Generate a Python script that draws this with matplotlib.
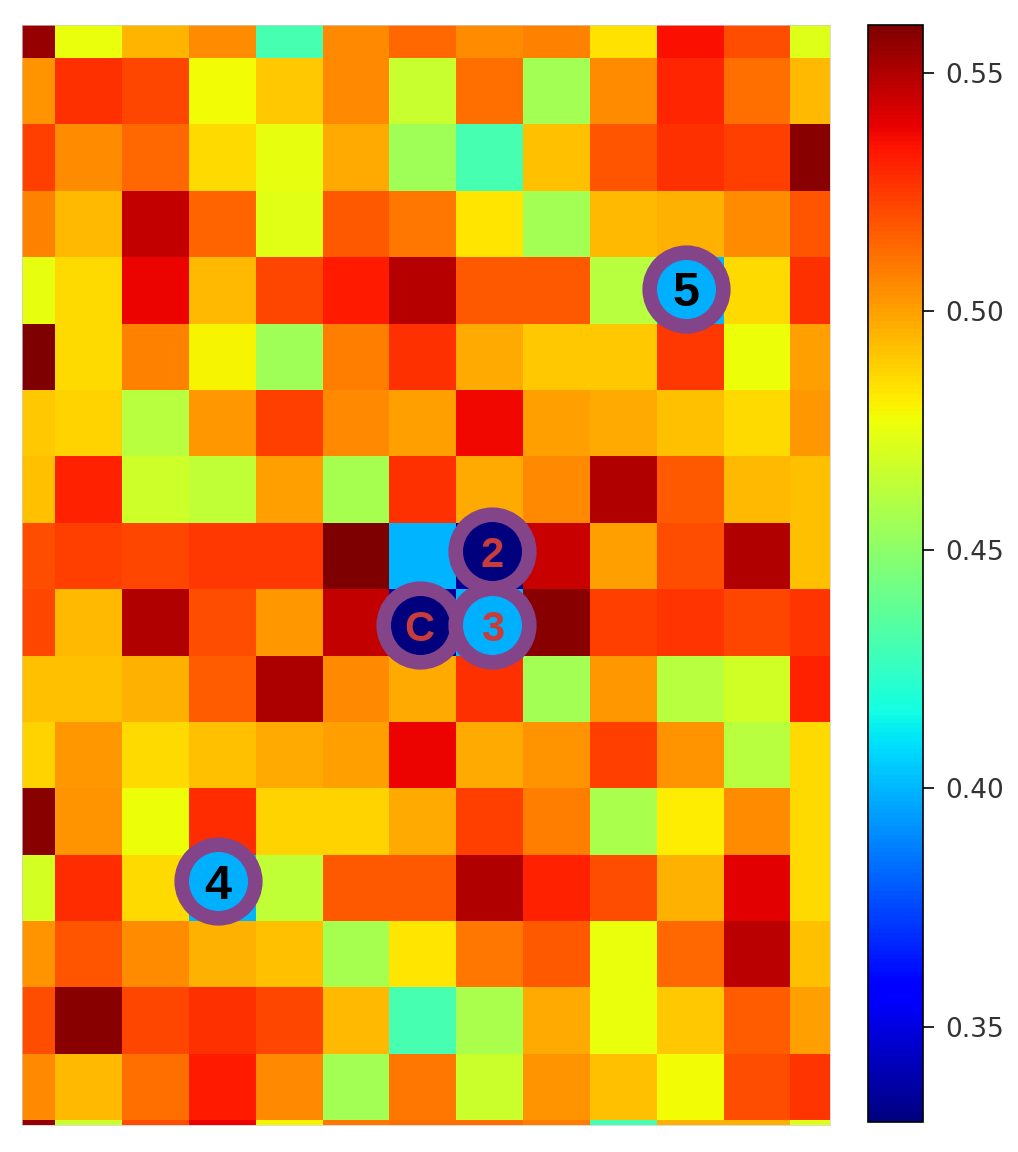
import numpy as np
from matplotlib import pyplot as plt

values = [
    [.555, .476, .495, .505, .430, .506, .514, .505, .507, .484, .535, .520, .472],
    [.503, .527, .522, .478, .490, .506, .466, .512, .456, .505, .530, .512, .494],
    [.524, .505, .514, .486, .475, .498, .455, .430, .492, .518, .527, .524, .558],
    [.507, .494, .546, .515, .473, .517, .510, .483, .456, .494, .496, .505, .518],
    [.475, .486, .538, .494, .522, .533, .549, .517, .517, .462, .400, .486, .527],
    [.560, .486, .507, .480, .455, .508, .527, .498, .490, .490, .525, .477, .500],
    [.490, .488, .462, .502, .524, .506, .500, .537, .500, .498, .492, .486, .502],
    [.492, .531, .468, .464, .500, .457, .527, .498, .506, .550, .517, .494, .492],
    [.520, .524, .522, .525, .525, .560, .400, .335, .545, .500, .520, .550, .492],
    [.522, .494, .550, .520, .502, .546, .335, .400, .558, .524, .526, .522, .526],
    [.492, .492, .496, .516, .551, .506, .498, .527, .456, .502, .462, .469, .531],
    [.488, .502, .486, .492, .498, .500, .538, .498, .503, .524, .503, .462, .486],
    [.558, .503, .477, .528, .488, .488, .498, .524, .508, .458, .481, .505, .486],
    [.470, .528, .486, .400, .464, .517, .517, .550, .531, .520, .496, .540, .486],
    [.503, .518, .505, .496, .492, .457, .483, .510, .517, .476, .514, .548, .492],
    [.520, .558, .522, .527, .522, .494, .430, .458, .498, .476, .490, .516, .500],
    [.506, .494, .512, .533, .506, .456, .510, .467, .503, .492, .478, .520, .526],
    [.555, .467, .520, .538, .480, .510, .512, .512, .508, .430, .496, .496, .472],
]

# circled labels: text, col, row, fill, text colour, size
labels = ["2", "C", "3", "4", "5"]
label_x = [7.04, 5.95, 7.04, 2.93, 9.94]
label_y = [7.93, 9.04, 9.04, 12.90, 3.97]
label_fill = ["#00007f", "#00007f", "#00b0ff", "#00b0ff", "#00b0ff"]
label_color = ["#c83c3c", "#c83c3c", "#c83c3c", "black", "black"]
label_size = [30, 30, 30, 35, 35]

cbar_ticks = [0.35, 0.40, 0.45, 0.50, 0.55]

W, H = 1018, 1152
fig = plt.figure(figsize=(W / 100, H / 100), dpi=100)
ax = fig.add_axes([22 / W, 1 - 1125 / H, 808 / W, 1100 / H])
im = ax.imshow(np.array(values), cmap="jet", vmin=0.33, vmax=0.56,
               interpolation="nearest", aspect="auto")
ax.set_xlim(0, 12.09)
ax.set_ylim(16.57, 0)
ax.set_xticks([])
ax.set_yticks([])
for s in ax.spines.values():
    s.set_color("#cccccc")
    s.set_linewidth(0.5)

for t, x, y, fc, tc, fs in zip(labels, label_x, label_y, label_fill, label_color, label_size):
    ax.scatter([x], [y], s=53 ** 2, facecolor=fc, edgecolor="#83448a",
               linewidth=10.5, zorder=3, clip_on=False)
    ax.text(x, y, t, ha="center", va="center_baseline", fontsize=fs, color=tc,
            fontweight="bold", family="Liberation Sans", zorder=4)

cax = fig.add_axes([868 / W, 1 - 1122 / H, 55 / W, 1097 / H])
cb = fig.colorbar(im, cax=cax)
cb.set_ticks(cbar_ticks)
cb.set_ticklabels(["%.2f" % v for v in cbar_ticks])
cax.tick_params(length=8, width=1.2, pad=8, labelsize=19, labelcolor="#333333")
cb.outline.set_linewidth(1.2)

fig.savefig("out.png", dpi=100)
